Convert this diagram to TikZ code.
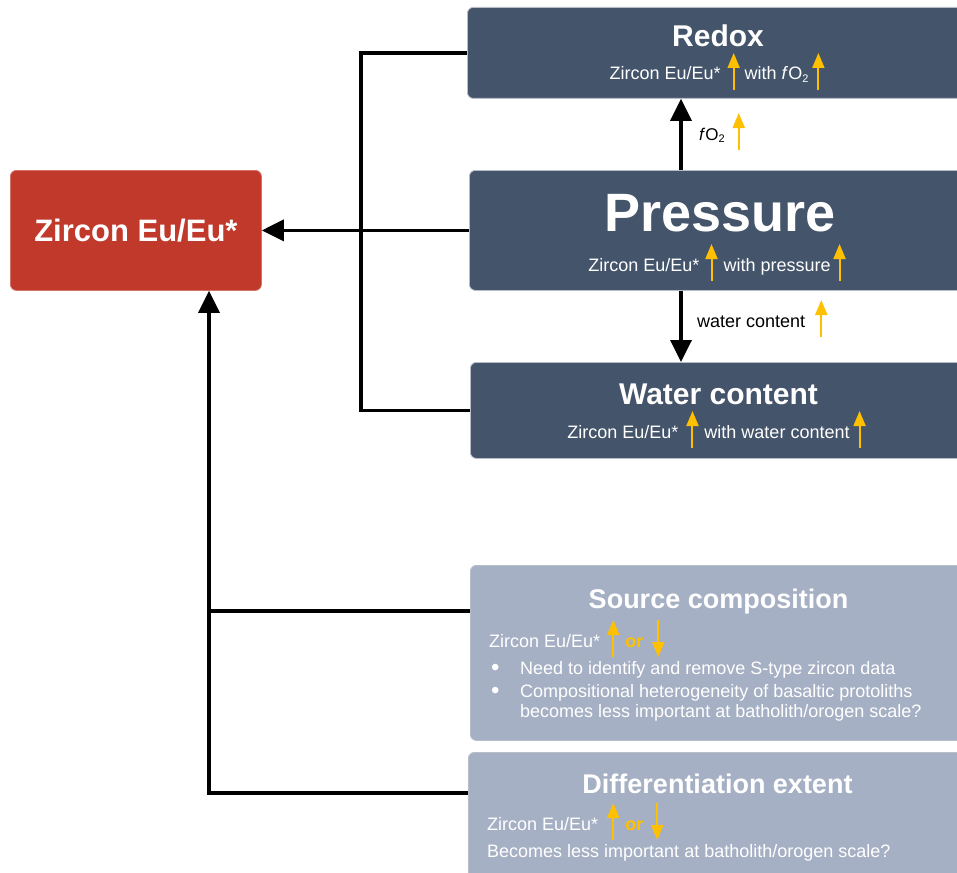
\documentclass[tikz,border=0pt]{standalone}
\usepackage{fontspec}
\setmainfont{Liberation Sans}
\usetikzlibrary{arrows.meta}
\definecolor{slate}{HTML}{44546A}
\definecolor{lightslate}{HTML}{A6B0C4}
\definecolor{zred}{HTML}{C0392B}
\definecolor{amber}{HTML}{FFC000}
\definecolor{edgegray}{HTML}{B8BEC8}
\newcommand\fsz[1]{\fontsize{#1}{#1}\selectfont}
\newcommand\osub[1]{\raisebox{-2.5pt}{\fsz{11}#1}}
\newcommand\bul{\hspace{2pt}\makebox[29pt][l]{\raisebox{-1pt}{\fsz{24}•}}}
\newcommand\uparr{\tikz[baseline=0pt]{\useasboundingbox (-6pt,-10pt) rectangle (6pt,27pt);\draw[amber,line width=2pt,-{Triangle[length=15pt,width=12pt]}] (0pt,-10pt) -- (0pt,27pt);}}
\newcommand\dnarr{\tikz[baseline=0pt]{\useasboundingbox (-6pt,-10pt) rectangle (6pt,27pt);\draw[amber,line width=2pt,-{Triangle[length=15pt,width=12pt]}] (0pt,27pt) -- (0pt,-10pt);}}
\begin{document}
\begin{tikzpicture}[x=1pt,y=-1pt,
 box/.style={rectangle,rounded corners=6pt,draw=edgegray,line width=0.8pt,anchor=north west,inner sep=0pt},
 conn/.style={line width=3.5pt,draw=black},
 arr/.style={conn,-{Triangle[length=22pt,width=21pt]}},
 ttl/.style={text=white,font=\bfseries\fsz{30},anchor=base,inner sep=0pt},
 sub/.style={text=white,font=\fsz{18},anchor=base,inner sep=0pt},
 subl/.style={sub,anchor=base west},
 lbl/.style={text=black,font=\fsz{18},anchor=base west,inner sep=0pt}]
\useasboundingbox (0,0) rectangle (957,872);
\fill[white] (0,0) rectangle (957,872);
% boxes
\node[box,fill=slate,minimum width=510pt,minimum height=91pt] (redox) at (467,7) {};
\node[box,fill=slate,minimum width=510pt,minimum height=120pt] (pressure) at (469,170) {};
\node[box,fill=slate,minimum width=510pt,minimum height=96pt] (water) at (470,362) {};
\node[box,fill=lightslate,minimum width=510pt,minimum height=175pt] (source) at (470,565) {};
\node[box,fill=lightslate,minimum width=510pt,minimum height=140pt] (diff) at (468,752) {};
\node[box,fill=zred,draw=zred!70!white,minimum width=251pt,minimum height=120pt,text=white,font=\bfseries\fsz{31}] (zircon) at (10,170) {Zircon Eu/Eu*};
% connectors
\coordinate (jx) at (361,52.5);
\coordinate (ax) at (681,0);
\coordinate (bx) at (209,793);
\coordinate (sy) at (0,611);
\draw[arr] (pressure.west) -- (zircon.east);
\draw[conn] (redox.west) -- (redox.west -| jx) |- (water.west);
\draw[arr] (pressure.north -| ax) -- (redox.south -| ax);
\draw[arr] (pressure.south -| ax) -- (water.north -| ax);
\draw[arr] (diff.west |- bx) -- (bx) -- (bx |- zircon.south);
\draw[conn] (source.west |- sy) -- (bx |- sy);
% titles
\node[ttl] (redoxT) at (718,47) {Redox};
\node[ttl,font=\bfseries\fsz{54}] (pressT) at (720,231) {Pressure};
\node[ttl] (waterT) at (718.5,404) {Water content};
\node[ttl,font=\bfseries\fsz{27}] (srcT) at (718.5,608) {Source composition};
\node[ttl,font=\bfseries\fsz{27}] (diffT) at (717.5,793) {Differentiation extent};
% subtitles
\node[sub] (redoxS) at (717,80) {Zircon Eu/Eu*\hspace{7pt}\uparr\hspace{5pt}with \textit{f}O\osub{2}\hspace{4pt}\uparr};
\node[sub] (pressS) at (717,271) {Zircon Eu/Eu*\hspace{6pt}\uparr\hspace{6pt}with pressure\hspace{3pt}\uparr};
\node[sub] (waterS) at (716.5,438) {Zircon Eu/Eu*\hspace{8pt}\uparr\hspace{6pt}with water content\hspace{4pt}\uparr};
\node[subl] (srcS) at (489,647) {Zircon Eu/Eu*\hspace{7pt}\uparr\hspace{6pt}\textcolor{amber}{\bfseries or}\hspace{9pt}\dnarr};
\node[subl] (srcB1) at (489,674) {\bul Need to identify and remove S-type zircon data};
\node[subl] (srcB2) at (489,697) {\bul Compositional heterogeneity of basaltic protoliths};
\node[subl] (srcB3) at (520,717) {becomes less important at batholith/orogen scale?};
\node[subl] (diffS) at (487,830) {Zircon Eu/Eu*\hspace{9pt}\uparr\hspace{6pt}\textcolor{amber}{\bfseries or}\hspace{8pt}\dnarr};
\node[subl] (diffB) at (487,857) {Becomes less important at batholith/orogen scale?};
% connector labels
\node[lbl,font=\fsz{17}] (fo2) at (699,140) {\textit{f}O\osub{2}\hspace{8pt}\uparr};
\node[lbl] (wc) at (697,327) {water content\hspace{10pt}\uparr};
\end{tikzpicture}
\end{document}
